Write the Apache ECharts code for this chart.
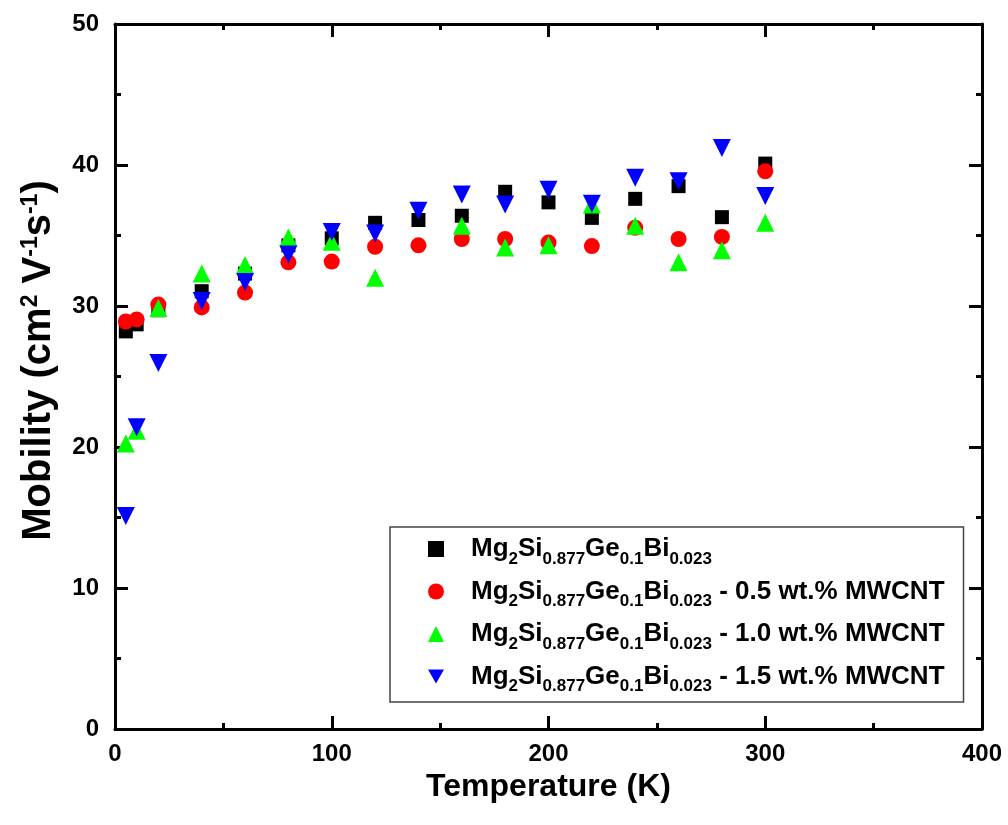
<!DOCTYPE html>
<html>
<head>
<meta charset="utf-8">
<title>Mobility vs Temperature</title>
<script src="https://cdn.jsdelivr.net/npm/echarts@6/dist/echarts.min.js"></script>
<style>
  html, body { margin: 0; padding: 0; background: #fff; }
  #chart { width: 1008px; height: 825px; }
</style>
</head>
<body>
<div id="chart"></div>
<script>
// Measurement temperatures (K)
const temperatures = [5, 10, 20, 40, 60, 80, 100, 120, 140, 160, 180, 200, 220, 240, 260, 280, 300];

// Hall mobility (cm^2 V^-1 s^-1) for each sample
const mobilityBase  = [28.2, 28.7, 29.7, 31.05, 32.3, 34.3, 34.8, 35.9, 36.1, 36.4, 38.1, 37.35, 36.25, 37.6, 38.5, 36.3, 40.1];
const mobilityCnt05 = [28.9, 29.05, 30.1, 29.9, 30.95, 33.1, 33.15, 34.2, 34.3, 34.75, 34.75, 34.5, 34.25, 35.55, 34.75, 34.9, 39.55];
const mobilityCnt10 = [20.25, 21.15, 29.85, 32.3, 32.9, 34.85, 34.55, 32.0, null, 35.7, 34.15, 34.3, 37.2, 35.7, 33.1, 33.95, 35.9];
const mobilityCnt15 = [15.1, 21.4, 25.95, 30.35, 31.7, 33.65, 35.25, 35.15, 36.75, 37.9, 37.2, 38.25, 37.25, 39.1, 38.85, 41.2, 37.8];

// Legend suffixes (composition text is built with rich-text subscripts)
const suffixes = ['', ' - 0.5 wt.% MWCNT', ' - 1.0 wt.% MWCNT', ' - 1.5 wt.% MWCNT'];
const seriesNames = suffixes.map(s => 'Mg2Si0.877Ge0.1Bi0.023' + s);

// Axis ranges and tick intervals
const xTicks = { min: 0, max: 400, interval: 100 };
const yTicks = { min: 0, max: 50, interval: 10 };

const FONT = '"Liberation Sans", Arial, sans-serif';
const downTriangle = 'path://M0,0 L20,0 L10,17.3 Z';

function pairs(values) {
  return temperatures.map((t, i) => [t, values[i]]).filter(p => p[1] !== null);
}

function legendLabel(name) {
  const idx = seriesNames.indexOf(name);
  return '{f|Mg}{s|2}{m|Si}{s|0.877}{m|Ge}{s|0.1}{m|Bi}{s|0.023}' +
         (suffixes[idx] ? '{m|' + suffixes[idx] + '}' : '');
}

const tickStyle = { show: true, inside: true, length: 13, lineStyle: { color: '#000', width: 3 } };
const minorTickStyle = { show: true, splitNumber: 2, length: 6, lineStyle: { color: '#000', width: 3 } };
const lineStyle = { show: true, onZero: false, lineStyle: { color: '#000', width: 3 } };

const chart = echarts.init(document.getElementById('chart'), null, { renderer: 'canvas' });

chart.setOption({
  backgroundColor: '#fff',
  animation: false,
  grid: { left: 115, right: 26, top: 24, bottom: 96, containLabel: false },
  xAxis: [
    {
      type: 'value', position: 'bottom', ...xTicks,
      name: 'Temperature (K)', nameLocation: 'middle', nameGap: 33,
      nameTextStyle: { fontFamily: FONT, fontWeight: 'bold', fontSize: 32, color: '#000' },
      axisLine: lineStyle, axisTick: tickStyle, minorTick: minorTickStyle,
      axisLabel: { margin: 13, fontFamily: FONT, fontWeight: 'bold', fontSize: 24, color: '#000' },
      splitLine: { show: false }
    },
    {
      type: 'value', position: 'top', ...xTicks,
      axisLine: lineStyle, axisTick: tickStyle, minorTick: minorTickStyle,
      axisLabel: { show: false }, splitLine: { show: false }
    }
  ],
  yAxis: [
    {
      type: 'value', position: 'left', ...yTicks,
      name: '{t|Mobility (cm}{p|2}{t| V}{p|-1}{t|s}{p|-1}{t|)}',
      nameLocation: 'middle', nameGap: 56, nameRotate: 90,
      nameTextStyle: {
        fontFamily: FONT, fontWeight: 'bold', fontSize: 40, color: '#000',
        padding: [0, 0, 0, 32],
        rich: {
          t: { fontFamily: FONT, fontWeight: 'bold', fontSize: 40, color: '#000' },
          p: { fontFamily: FONT, fontWeight: 'bold', fontSize: 23, color: '#000', padding: [0, 0, 17, 0] }
        }
      },
      axisLine: lineStyle, axisTick: tickStyle, minorTick: minorTickStyle,
      axisLabel: { margin: 16, fontFamily: FONT, fontWeight: 'bold', fontSize: 24, color: '#000' },
      splitLine: { show: false }
    },
    {
      type: 'value', position: 'right', ...yTicks,
      axisLine: lineStyle, axisTick: tickStyle, minorTick: minorTickStyle,
      axisLabel: { show: false }, splitLine: { show: false }
    }
  ],
  legend: {
    orient: 'vertical',
    left: 390, top: 527,
    padding: [9, 19, 7, 38],
    itemGap: 11,
    itemWidth: 16, itemHeight: 16,
    borderColor: '#444', borderWidth: 1.5,
    backgroundColor: '#fff',
    data: [
      { name: seriesNames[0], icon: 'rect' },
      { name: seriesNames[1], icon: 'circle' },
      { name: seriesNames[2], icon: 'triangle' },
      { name: seriesNames[3], icon: downTriangle }
    ],
    formatter: legendLabel,
    textStyle: {
      fontFamily: FONT, fontWeight: 'bold', fontSize: 26, color: '#000',
      rich: {
        f: { fontFamily: FONT, fontWeight: 'bold', fontSize: 26, color: '#000', padding: [0, 0, 0, 22] },
        m: { fontFamily: FONT, fontWeight: 'bold', fontSize: 26, color: '#000' },
        s: { fontFamily: FONT, fontWeight: 'bold', fontSize: 17, color: '#000', padding: [20, 0, 0, 0] }
      }
    }
  },
  series: [
    { name: seriesNames[0], type: 'scatter', symbol: 'rect', symbolSize: 14,
      itemStyle: { color: '#000000', opacity: 1 }, data: pairs(mobilityBase) },
    { name: seriesNames[1], type: 'scatter', symbol: 'circle', symbolSize: 16,
      itemStyle: { color: '#ff0000', opacity: 1 }, data: pairs(mobilityCnt05) },
    { name: seriesNames[2], type: 'scatter', symbol: 'triangle', symbolSize: 18,
      itemStyle: { color: '#00ff00', opacity: 1 }, data: pairs(mobilityCnt10) },
    { name: seriesNames[3], type: 'scatter', symbol: downTriangle, symbolSize: 18,
      itemStyle: { color: '#0000ff', opacity: 1 }, data: pairs(mobilityCnt15) }
  ]
});
</script>
</body>
</html>
